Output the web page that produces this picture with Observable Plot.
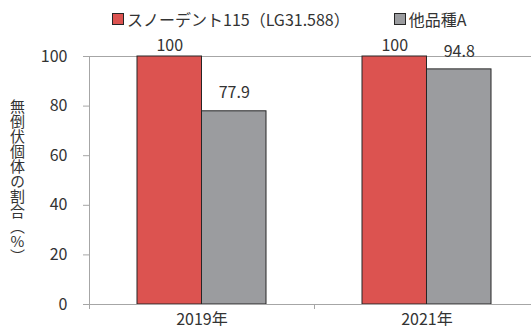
<!DOCTYPE html>
<html><head><meta charset="utf-8">
<script src="https://cdn.jsdelivr.net/npm/d3@7"></script>
<script src="https://cdn.jsdelivr.net/npm/@observablehq/plot@0.6"></script>
<style>
html,body{margin:0;padding:0;background:#fff;}
#wrap{position:relative;width:531px;height:326px;overflow:hidden;font-family:"Noto Sans CJK JP","Noto Sans",sans-serif;color:#333;}
#legend{position:absolute;left:112px;top:8px;display:flex;align-items:center;font-size:16px;white-space:nowrap;line-height:22px;}
#legend .item{display:flex;align-items:center;margin-right:44px;}
#legend .sw{width:10px;height:10px;border:1px solid #262626;margin-right:3px;}
#ytitle{position:absolute;left:10px;top:99px;writing-mode:vertical-rl;text-orientation:upright;font-size:15px;line-height:15px;white-space:nowrap;}
#chart{position:absolute;left:0;top:0;width:540px;}
#chart svg{max-width:none !important;}
</style>
</head><body>
<div id="wrap"><div id="chart"></div><div id="legend"></div><div id="ytitle"></div></div>
<script>
const years = ["2019年", "2021年"];
const seriesNames = ["スノーデント115（LG31.588）", "他品種A"];
const snowdentValues = [100, 100];
const otherValues = [77.9, 94.8];
const yTicks = [0, 20, 40, 60, 80, 100];
const yTitle = "無倒伏個体の割合（%）";
const colors = ["#dc5350", "#9b9c9f"];

const rows = [];
years.forEach((y, i) => {
  rows.push({year: y, series: 0, value: snowdentValues[i]});
  rows.push({year: y, series: 1, value: otherValues[i]});
});

const W = 540, H = 326, mL = 89, mR = 1, mT = 56, mB = 22;
const pIn = 0.4267;
const step = (W - mL - mR) / years.length;
const band = step * (1 - pIn);
const axisGray = "#a6a6a6";
const textColor = "#333";

const chart = Plot.plot({
  width: W, height: H,
  marginLeft: mL, marginRight: mR, marginTop: mT, marginBottom: mB,
  style: {fontFamily: "'Noto Sans CJK JP', 'Noto Sans', sans-serif", fontSize: "16px", color: textColor, background: "transparent", maxWidth: "none"},
  x: {domain: years, paddingInner: pIn, paddingOuter: pIn / 2, axis: null},
  y: {domain: [0, 100], axis: null},
  marks: [
    Plot.ruleY([100], {stroke: axisGray}),
    Plot.barY(rows.filter(d => d.series === 0), {x: "year", y: "value", fill: colors[0], stroke: "#262626", strokeWidth: 1, insetRight: band / 2}),
    Plot.barY(rows.filter(d => d.series === 1), {x: "year", y: "value", fill: colors[1], stroke: "#262626", strokeWidth: 1, insetLeft: band / 2}),
    Plot.ruleY([0], {stroke: axisGray}),
    Plot.ruleX([years[0]], {dx: -step / 2, y1: 0, y2: 100, stroke: axisGray}),
    Plot.axisY(yTicks, {tickSize: 6, tickPadding: 16, stroke: axisGray, fill: textColor, fontSize: 16, label: null}),
    Plot.axisX(years, {tickSize: 0, tickPadding: 9, fill: textColor, fontSize: 16, label: null}),
    Plot.axisX([years[0]], {tickSize: 5, dx: step / 2, stroke: axisGray, tickFormat: () => "", label: null}),
    Plot.axisX([years[0]], {tickSize: 5, dx: -step / 2, stroke: axisGray, tickFormat: () => "", label: null}),
    Plot.text(rows.filter(d => d.series === 0), {x: "year", y: d => Math.min(d.value, 97), text: d => String(d.value), dx: -band / 4, dy: -18, fill: textColor, fontSize: 16}),
    Plot.text(rows.filter(d => d.series === 1), {x: "year", y: d => Math.min(d.value, 97), text: d => String(d.value), dx: band / 4, dy: -18, fill: textColor, fontSize: 16})
  ]
});
chart.style.maxWidth = "none";
document.getElementById("chart").appendChild(chart);

const legend = document.getElementById("legend");
seriesNames.forEach((name, i) => {
  const item = document.createElement("div");
  item.className = "item";
  const sw = document.createElement("div");
  sw.className = "sw";
  sw.style.background = colors[i];
  const label = document.createElement("span");
  label.textContent = name;
  item.appendChild(sw);
  item.appendChild(label);
  legend.appendChild(item);
});
document.getElementById("ytitle").textContent = yTitle;
</script>
</body></html>
